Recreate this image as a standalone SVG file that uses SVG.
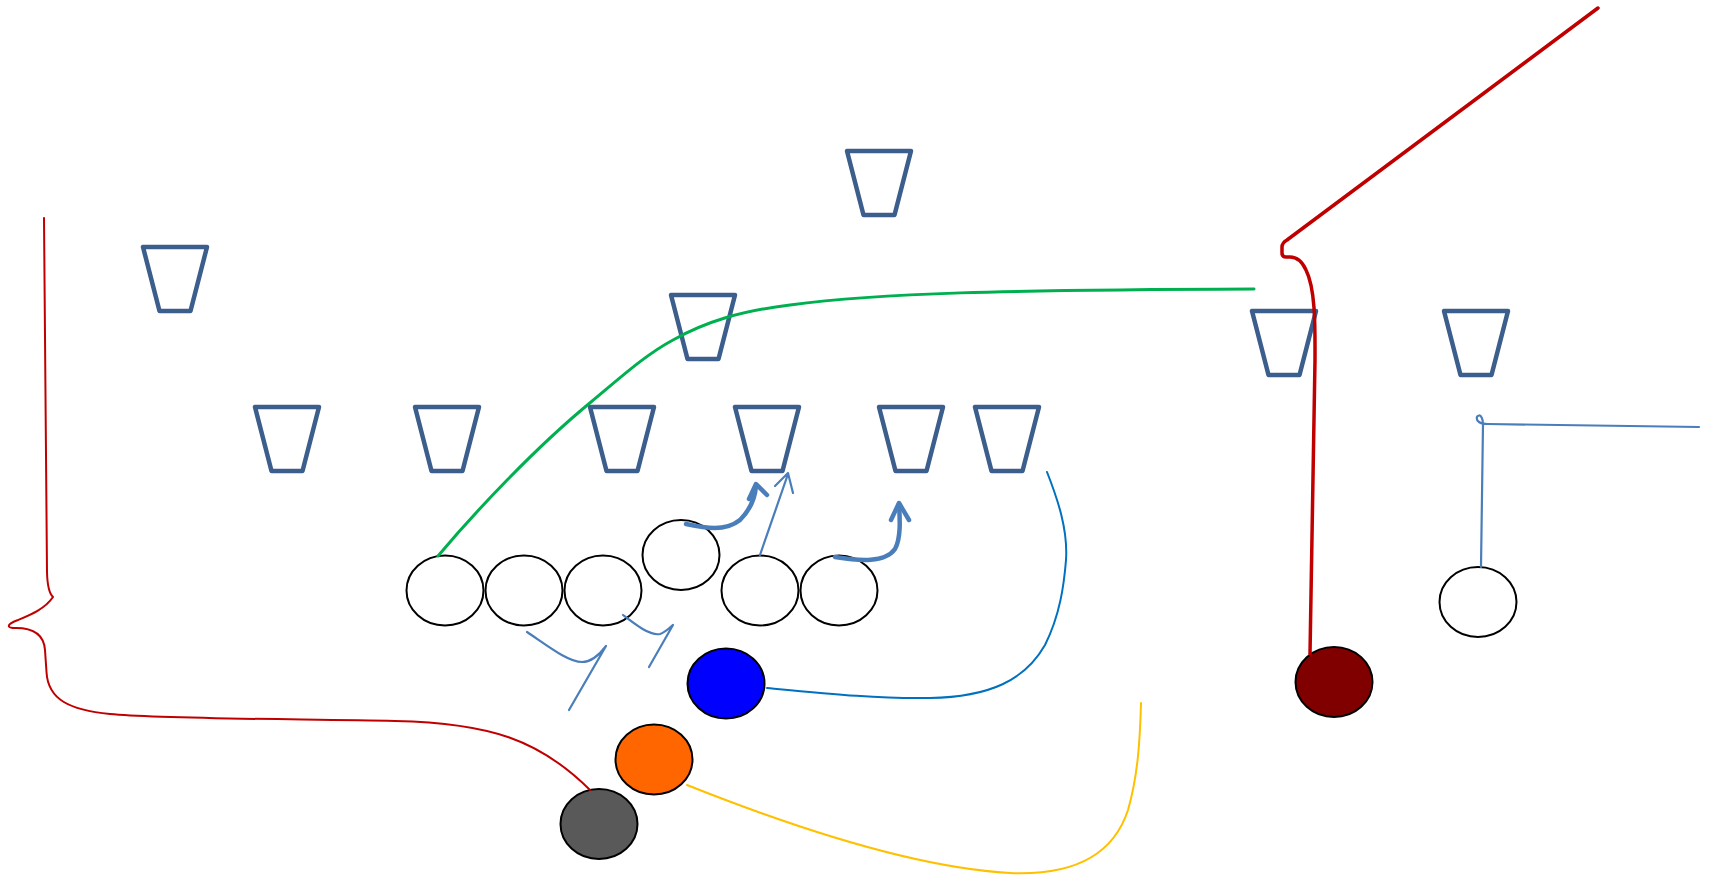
<svg xmlns="http://www.w3.org/2000/svg" width="1712" height="878" viewBox="0 0 1712 878">
<style>
.def{fill:none;stroke:#3B5E8C;stroke-width:4.5;stroke-linejoin:round}
.off{stroke:#000;stroke-width:2}
.wr{fill:#fff}
.rt{fill:none;stroke:#4A7EBB;stroke-width:2.2;stroke-linecap:round;stroke-linejoin:round}
.rtk{fill:none;stroke:#4A7EBB;stroke-width:4.5;stroke-linecap:round;stroke-linejoin:round}
.ln{fill:none;stroke-linecap:round;stroke-linejoin:round}
</style>
<defs>
<path id="trap" d="M-32,0 H32 L15.5,64 H-15.5 Z"/>
</defs>
<rect width="1712" height="878" fill="#fff"/>
<g id="defense">
<g id="d1"><use href="#trap" class="def" x="175" y="247"/></g>
<g id="d2"><use href="#trap" class="def" x="287" y="407"/></g>
<g id="d3"><use href="#trap" class="def" x="447" y="407"/></g>
<g id="d4"><use href="#trap" class="def" x="622" y="407"/></g>
<g id="d5"><use href="#trap" class="def" x="767" y="407"/></g>
<g id="d6"><use href="#trap" class="def" x="911" y="407"/></g>
<g id="d7"><use href="#trap" class="def" x="1007" y="407"/></g>
<g id="d8"><use href="#trap" class="def" x="703" y="295"/></g>
<g id="d9"><use href="#trap" class="def" x="879" y="151"/></g>
<g id="d10"><use href="#trap" class="def" x="1284" y="311"/></g>
<g id="d11"><use href="#trap" class="def" x="1476" y="311"/></g>
</g>
<g id="o1"><ellipse class="off wr" cx="445" cy="590.5" rx="38.5" ry="35"/></g>
<g id="o2"><ellipse class="off wr" cx="524" cy="590.5" rx="38.5" ry="35"/></g>
<g id="o3"><ellipse class="off wr" cx="603" cy="590.5" rx="38.5" ry="35"/></g>
<g id="o4"><ellipse class="off wr" cx="681" cy="555" rx="38.5" ry="35"/></g>
<g id="o5"><ellipse class="off wr" cx="760" cy="590.5" rx="38.5" ry="35"/></g>
<g id="o6"><ellipse class="off wr" cx="839" cy="590.5" rx="38.5" ry="35"/></g>
<g id="o7"><ellipse class="off wr" cx="1478" cy="602" rx="38.5" ry="35"/></g>
<g id="blue"><ellipse class="off" fill="#0000FF" cx="726" cy="683.5" rx="38.5" ry="35"/></g>
<g id="orange"><ellipse class="off" fill="#FF6600" cx="654" cy="759.5" rx="38.5" ry="35"/></g>
<g id="gray"><ellipse class="off" fill="#595959" cx="599" cy="824" rx="38.5" ry="35"/></g>
<g id="darkred"><ellipse class="off" fill="#800000" cx="1334" cy="682" rx="38.5" ry="35"/></g>
<g id="connectors">
<path class="ln" stroke="#00B050" stroke-width="3" d="M438,556 C475,512 535,448 591,402 C620,378 645,355 673,340 C705,322 740,311 790,305 C880,293 1000,290 1254,289"/>
<path class="ln" stroke="#C00000" stroke-width="2" d="M44,218 L47,572 Q47.5,592 53,597 C45,609 30,615 18,620 C5,625 7,628 16,628 C35,628 44,636 45,650 L46.5,672 C48,700 70,710 110,714 C160,719 300,719 395,721 C490,723 540,740 590,790"/>
<path class="ln" stroke="#C00000" stroke-width="3.5" d="M1310,654 L1315,360 C1315,330 1316,290 1306,270 C1302,261 1297,257 1290,257 L1286,257 Q1282,257 1282,253 L1282,247 Q1282,243 1287,240 L1598,8"/>
<path class="ln" stroke="#0070C0" stroke-width="2" d="M767,688 C830,694 880,699 930,698 C990,697 1025,680 1045,645 C1060,615 1064,585 1066,560 C1068,530 1058,500 1047,472"/>
<path class="ln" stroke="#FFC000" stroke-width="2" d="M687,785 C800,830 920,868 1010,873 C1080,876 1115,850 1128,810 C1138,775 1140,740 1141,703"/>
<path class="rtk" d="M686,524 C705,528 725,532 740,520 C750,510 755,498 756,486"/>
<path class="rtk" d="M749,499 L756,484 L767,495"/>
<path class="rt" d="M760,555 L788,474 M775,486 L788,473 L793,493"/>
<path class="rtk" d="M835,557 C860,561 885,563 895,549 C901,538 900,520 899,504"/>
<path class="rtk" d="M891,520 L899,503 L909,520"/>
<path class="rt" d="M527,632 C548,646 568,662 582,662 C592,662 600,654 606,646 L569,710"/>
<path class="rt" d="M623,615 C636,625 650,636 660,634 C666,632 669,628 673,625 L649,667"/>
<path class="rt" d="M1481,567 L1483,424 C1483,419 1481,415 1479,415.5 C1476,416 1476,420 1479,422 C1481,423.5 1484,424 1488,424 L1699,427"/>
</g>
</svg>
